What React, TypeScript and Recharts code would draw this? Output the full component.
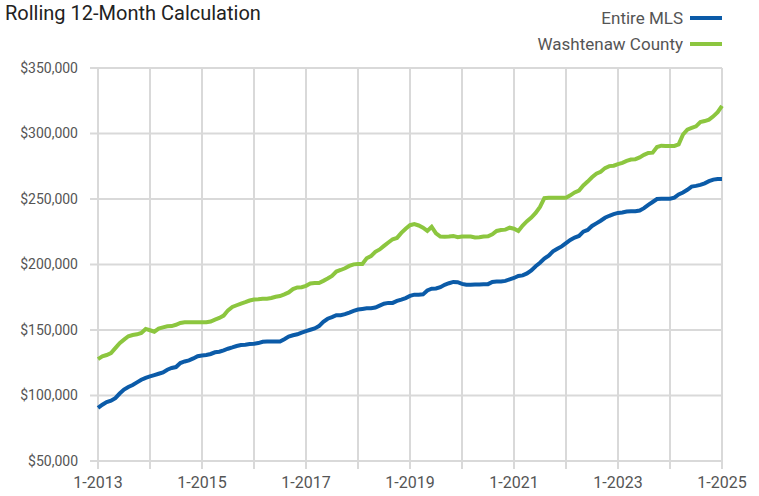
import React from 'react';
import { LineChart, Line, XAxis, YAxis, CartesianGrid } from 'recharts';

// monthly rolling 12-month values, in thousands of dollars, 1-2013 .. 1-2025
const entireMls = [
    90.5, 93, 95, 96, 98, 101.5, 104.5, 106.5, 108, 110, 112, 113.5, 114.6,
    115.6, 116.6, 117.6, 119.7, 121, 121.7, 124.8, 126, 126.8, 128.3, 130, 130.6,
    130.9, 131.7, 133, 133.4, 134.5, 135.7, 136.7, 137.8, 138.5, 138.8, 139.3, 139.5,
    140, 141, 141.2, 141.2, 141.2, 141.2, 143, 145, 146, 146.7, 148, 149.2,
    150.2, 151.2, 153, 156.3, 158.6, 159.8, 161.3, 161.3, 162.1, 163.3, 164.6, 165.6,
    166.1, 166.6, 166.6, 167.1, 168.6, 170.1, 170.7, 170.7, 172.2, 173.2, 174.4, 176,
    177, 177, 177.2, 180.2, 181.5, 181.7, 182.7, 184.5, 185.7, 186.7, 186.5, 185.2,
    184.5, 184.5, 184.7, 184.7, 185, 185, 186.7, 187, 187, 187.5, 188.7, 189.7,
    191.2, 191.7, 193.2, 195.5, 198.7, 201.3, 204.5, 206.8, 210, 212, 213.8, 216.3,
    218.8, 220.6, 221.8, 225.1, 226.4, 229.4, 231.4, 233.4, 235.7, 237.2, 238.4, 239.4,
    239.7, 240.4, 240.7, 240.7, 241.2, 243, 245.5, 247.7, 250, 250.2, 250.2, 250.2,
    251, 253.5, 255, 257, 259.5, 260, 260.8, 262, 263.6, 264.8, 265.3, 265.3,
];

const washtenaw = [
    127.8, 129.9, 130.9, 132.4, 136.2, 140, 142.6, 145.2, 146.2, 146.7, 147.7, 150.8, 149.8,
    148.7, 151, 152, 152.8, 153, 154, 155.4, 155.9, 155.9, 155.9, 155.9, 155.9,
    155.9, 156.5, 157.9, 159.2, 161, 165, 167.6, 168.9, 170.2, 171.2, 172.5, 173.2,
    173.4, 173.9, 173.9, 174.4, 175.4, 175.9, 177.2, 178.7, 181.2, 182.5, 182.7, 183.7,
    185.5, 185.8, 185.8, 187.5, 189.3, 191.3, 194.6, 195.8, 197.1, 198.9, 200.1, 200.4,
    200.4, 204.7, 206.4, 209.7, 211.5, 214.2, 216.8, 219.3, 220.3, 224.1, 227.3, 230,
    230.8, 229.8, 228.1, 225.6, 228.8, 223.8, 221.3, 221.1, 221.3, 221.8, 220.8, 221.3,
    221.3, 221.3, 220.6, 220.8, 221.3, 221.6, 223.1, 225.6, 226.3, 226.6, 228.1, 227.3,
    225.6, 229.8, 233.1, 235.8, 239.4, 243.9, 250.6, 251, 251, 251, 251, 251,
    252.8, 255, 256.5, 260.3, 263.3, 266.6, 269.3, 270.8, 273.6, 275.1, 275.4, 276.6,
    277.6, 279.1, 280.1, 280.4, 281.7, 283.7, 285.2, 285.4, 289.7, 290.7, 290.5, 290.5,
    290.5, 291.7, 299.2, 303, 304.3, 305.5, 308.8, 309.5, 310.6, 313.1, 316.3, 321.1,
];

const years = [2013, 2014, 2015, 2016, 2017, 2018, 2019, 2020, 2021, 2022, 2023, 2024, 2025];
const labeledYears = [2013, 2015, 2017, 2019, 2021, 2023, 2025];
const yTicks = [50, 100, 150, 200, 250, 300, 350];

const BLUE = '#0b5ba8';
const GREEN = '#8cc63f';
const GRID = '#d9d9d9';
const FONT = 'Roboto, sans-serif';

const data = entireMls.map((v, i) => ({
    idx: i,
    label: `${(i % 12) + 1}-${2013 + Math.floor(i / 12)}`,
    mls: v,
    washtenaw: washtenaw[i],
}));

const xTicks = years.map((y) => (y - 2013) * 12);

const legendItems = [
    { name: 'Entire MLS', color: BLUE },
    { name: 'Washtenaw County', color: GREEN },
];

export default function App() {
    return (
        <div style={{ position: 'absolute', left: 0, top: 0, width: 759, height: 496, background: '#fff' }}>
            <div style={{ position: 'absolute', left: 5, top: 1, fontFamily: FONT, fontSize: 20, color: '#222' }}>
                Rolling 12-Month Calculation
            </div>
            <div style={{ position: 'absolute', right: 37, top: 5, fontFamily: FONT, fontSize: 17, color: '#555' }}>
                {legendItems.map((it) => (
                    <div key={it.name} style={{ display: 'flex', alignItems: 'center', justifyContent: 'flex-end', height: 26 }}>
                        <span>{it.name}</span>
                        <span style={{ display: 'inline-block', width: 32, height: 4, background: it.color, marginLeft: 7 }} />
                    </div>
                ))}
            </div>
            <LineChart width={759} height={496} data={data} margin={{ top: 68, right: 37, left: 8, bottom: 5 }}>
                <CartesianGrid stroke={GRID} strokeWidth={2} />
                <XAxis
                    dataKey="idx"
                    type="number"
                    domain={[0, 144]}
                    ticks={xTicks}
                    interval={0}
                    tickFormatter={(v: number) => {
                        const y = 2013 + v / 12;
                        return labeledYears.includes(y) ? `1-${y}` : '';
                    }}
                    axisLine={{ stroke: GRID, strokeWidth: 2 }}
                    tickLine={{ stroke: GRID, strokeWidth: 2 }}
                    tickSize={8}
                    tickMargin={8}
                    height={30}
                    tick={{ fill: '#555', fontSize: 16, fontFamily: FONT }}
                />
                <YAxis
                    domain={[50, 350]}
                    ticks={yTicks}
                    interval={0}
                    tickFormatter={(v: number) => `$${v},000`}
                    axisLine={false}
                    tickLine={{ stroke: GRID, strokeWidth: 2 }}
                    tickSize={8}
                    tickMargin={12}
                    width={90}
                    tick={{ fill: '#555', fontSize: 14, fontFamily: FONT }}
                />
                <Line type="linear" dataKey="mls" name="Entire MLS" stroke={BLUE} strokeWidth={4} dot={false} isAnimationActive={false} />
                <Line type="linear" dataKey="washtenaw" name="Washtenaw County" stroke={GREEN} strokeWidth={4} dot={false} isAnimationActive={false} />
            </LineChart>
        </div>
    );
}
